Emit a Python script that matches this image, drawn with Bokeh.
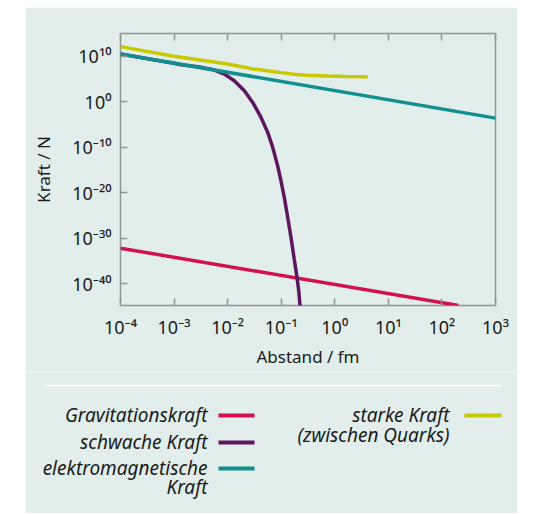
from bokeh.plotting import figure
from bokeh.models import (LogAxis, FixedTicker, CustomJSTickFormatter, Range1d,
                          ColumnDataSource, Spacer)
from bokeh.layouts import column, row
from bokeh.core.properties import value
from bokeh.embed import file_html
from bokeh.resources import INLINE

# ---------------- data ----------------
x_tick_values = [1e-4, 1e-3, 1e-2, 1e-1, 1e0, 1e1, 1e2, 1e3]
x_tick_exps = [-4, -3, -2, -1, 0, 1, 2, 3]
x_tick_labels = ["10⁻⁴", "10⁻³", "10⁻²", "10⁻¹", "10⁰", "10¹", "10²", "10³"]

y_tick_values = [1e-40, 1e-30, 1e-20, 1e-10, 1e0, 1e10]
y_tick_exps = [-40, -30, -20, -10, 0, 10]
y_tick_labels = ["10⁻⁴⁰", "10⁻³⁰", "10⁻²⁰", "10⁻¹⁰", "10⁰", "10¹⁰"]

# Gravitationskraft
grav_x = [1e-4, 204.0]
grav_y = [6.3e-33, 1.6e-45]

# elektromagnetische Kraft
em_x = [1e-4, 1e3]
em_y = [3.2e10, 2.5e-4]

# schwache Kraft
weak_x = [1e-4, 3.2e-4, 1e-3, 1.35e-3, 2.76e-3, 5.64e-3, 8.67e-3, 0.0133, 0.0205,
          0.0294, 0.042, 0.056, 0.0693, 0.0859, 0.099, 0.114, 0.132, 0.152, 0.175,
          0.197, 0.212, 0.224, 0.23]
weak_y = [3.2e10, 2.8e9, 2.8e8, 1.35e8, 4.9e7, 9.1e6, 1.2e6, 4.2e4, 263.0,
          0.71, 3.5e-4, 1.8e-7, 1e-10, 7.9e-15, 4e-18, 1e-21, 4e-26, 1.6e-30, 2.5e-35,
          2.5e-39, 3.2e-42, 1.6e-45, 1e-47]

# starke Kraft (zwischen Quarks)
strong_x = [1e-4, 1e-3, 1e-2, 0.03, 0.06, 0.1, 0.17, 0.3, 0.75, 1.6, 4.1]
strong_y = [1.3e12, 1e10, 2e8, 1.6e7, 5.6e6, 2.5e6, 1.1e6, 6.3e5, 4.5e5, 3.5e5, 3.2e5]

legend_left_labels = ["Gravitationskraft", "schwache Kraft", "elektromagnetische", "Kraft"]
legend_right_labels = ["starke Kraft", "(zwischen Quarks)"]

# ---------------- styles ----------------
BG = "#e2eeeb"
GRAY = "#8e9696"
TXT = "#1a1a1a"
C_GRAV = "#d2124f"
C_WEAK = "#5c165e"
C_EM = "#11908f"
C_STRONG = "#c9c900"
FONT = "Noto Sans"

p = figure(x_axis_type="log", y_axis_type="log",
           x_range=Range1d(1e-4, 1e3), y_range=Range1d(1.58e-45, 1e15),
           width=492, height=365,
           min_border_left=95, min_border_right=22, min_border_top=26, min_border_bottom=67,
           output_backend="svg", toolbar_location=None,
           background_fill_color=BG, border_fill_color=BG,
           outline_line_color=GRAY, outline_line_width=1.5)
p.grid.visible = False

fmt_code = """
const e = Math.round(Math.log10(tick));
const i = exps.indexOf(e);
return i >= 0 ? labels[i] : "";
"""

xa = p.xaxis[0]
xa.ticker = FixedTicker(ticks=x_tick_values)
xa.formatter = CustomJSTickFormatter(args=dict(exps=x_tick_exps, labels=x_tick_labels), code=fmt_code)
ya = p.yaxis[0]
ya.ticker = FixedTicker(ticks=y_tick_values)
ya.formatter = CustomJSTickFormatter(args=dict(exps=y_tick_exps, labels=y_tick_labels), code=fmt_code)

for ax in (xa, ya):
    ax.axis_line_color = None
    ax.major_tick_in = 7
    ax.major_tick_out = 0
    ax.major_tick_line_color = GRAY
    ax.major_tick_line_width = 1.5
    ax.minor_tick_line_color = None
    ax.major_label_text_font = FONT
    ax.major_label_text_font_size = "18px"
    ax.major_label_text_color = TXT
    ax.axis_label_text_font = FONT
    ax.axis_label_text_font_size = "17px"
    ax.axis_label_text_font_style = "normal"
    ax.axis_label_text_color = TXT

xa.axis_label = "Abstand / fm"
xa.major_label_standoff = 9
xa.axis_label_standoff = 3
ya.axis_label = "Kraft / N"
ya.major_label_standoff = 9
ya.axis_label_standoff = 14

top = LogAxis(ticker=FixedTicker(ticks=x_tick_values),
              formatter=CustomJSTickFormatter(code="return ''"),
              axis_line_color=None, major_tick_in=7, major_tick_out=0,
              major_tick_line_color=GRAY, major_tick_line_width=1.5,
              minor_tick_line_color=None, major_label_text_font_size="1px")
p.add_layout(top, "above")

p.line(grav_x, grav_y, line_color=C_GRAV, line_width=3.5)
p.line(weak_x, weak_y, line_color=C_WEAK, line_width=3.5)
p.line(em_x, em_y, line_color=C_EM, line_width=3.5)
p.line(strong_x, strong_y, line_color=C_STRONG, line_width=3.5)

# ---------------- legend panel ----------------
W2, H2 = 492, 141
q = figure(width=W2, height=H2, x_range=Range1d(0, W2), y_range=Range1d(H2, 0),
           x_axis_type=None, y_axis_type=None,
           min_border=0, min_border_left=0, min_border_right=0,
           min_border_top=0, min_border_bottom=0,
           output_backend="svg", toolbar_location=None,
           background_fill_color=BG, border_fill_color=BG, outline_line_color=None)
q.grid.visible = False

q.segment(x0=[19], y0=[13], x1=[476], y1=[13], line_color="white", line_width=1.5)

left_src = ColumnDataSource(dict(x=[182, 182, 182, 182], y=[42, 69, 95, 114],
                                 t=legend_left_labels))
q.text(x="x", y="y", text="t", source=left_src, text_align="right", text_baseline="middle",
       text_font=value(FONT), text_font_style="italic", text_font_size="19px",
       text_color=TXT)
right_src = ColumnDataSource(dict(x=[424, 424], y=[42, 62], t=legend_right_labels))
q.text(x="x", y="y", text="t", source=right_src, text_align="right", text_baseline="middle",
       text_font=value(FONT), text_font_style="italic", text_font_size="19px",
       text_color=TXT)

q.segment(x0=[193, 193, 193, 439], y0=[43, 70, 96, 43],
          x1=[229, 229, 229, 476], y1=[43, 70, 96, 43],
          line_color=[C_GRAV, C_WEAK, C_EM, C_STRONG], line_width=4)

root_top = column(Spacer(width=10, height=7), row(Spacer(width=25, height=10), p, spacing=0), spacing=0)
root_bottom = row(Spacer(width=25, height=10), q, spacing=0)

open("out.html", "w").write(file_html([root_top, root_bottom], INLINE))
